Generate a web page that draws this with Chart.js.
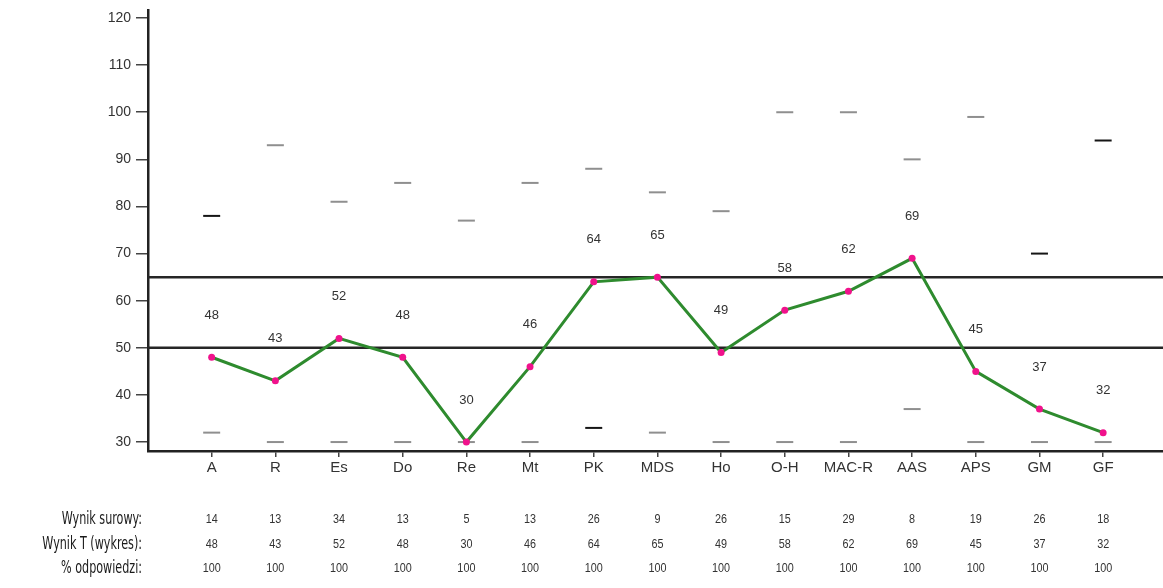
<!DOCTYPE html>
<html>
<head>
<meta charset="utf-8">
<script src="https://cdn.jsdelivr.net/npm/chart.js@4.4.1/dist/chart.umd.min.js"></script>
<style>
  html, body { margin: 0; padding: 0; background: #ffffff; }
  #wrap { width: 1163px; height: 588px; position: relative; }
</style>
</head>
<body>
<div id="wrap"><canvas id="c" width="1163" height="588"></canvas></div>
<script>
// ---- data ----
const categories = ['A','R','Es','Do','Re','Mt','PK','MDS','Ho','O-H','MAC-R','AAS','APS','GM','GF'];
const tScores = [48,43,52,48,30,46,64,65,49,58,62,69,45,37,32];
const rawScores = [14,13,34,13,5,13,26,9,26,15,29,8,19,26,18];
const responsePct = [100,100,100,100,100,100,100,100,100,100,100,100,100,100,100];
const upperMarks = [78,93,81,85,77,85,88,83,79,100,100,90,99,70,94];
const lowerMarks = [32,30,30,30,30,30,33,32,30,30,30,37,30,30,30];
const refLevels = [65, 50];
const yTicks = [30,40,50,60,70,80,90,100,110,120];
const rowLabels = ['Wynik surowy:', 'Wynik T (wykres):', '% odpowiedzi:'];

const darkUpper = ['A','GM','GF'];
const darkLower = ['PK'];

const pts = arr => arr.map((v, i) => ({x: i, y: v}));
const markColors = (names) => categories.map(c => names.includes(c) ? '#151515' : '#8f8f8f');

const labelsPlugin = {
  id: 'labelsPlugin',
  afterDatasetsDraw(chart) {
    const ctx = chart.ctx;
    const meta = chart.getDatasetMeta(0);
    ctx.save();
    ctx.font = '13px "Liberation Sans", Arial, sans-serif';
    ctx.fillStyle = '#333';
    ctx.textAlign = 'center';
    ctx.textBaseline = 'middle';
    meta.data.forEach((el, i) => {
      ctx.fillText(String(tScores[i]), el.x, el.y - 42);
    });
    ctx.restore();
  },
  afterDraw(chart) {
    const ctx = chart.ctx;
    const xs = chart.scales.x;
    const rows = [rawScores, tScores, responsePct];
    const rowY = [520, 545, 569];
    // row labels (condensed)
    ctx.save();
    ctx.fillStyle = '#1a1a1a';
    ctx.textBaseline = 'middle';
    ctx.textAlign = 'right';
    ctx.font = '17px "DejaVu Sans Condensed", "DejaVu Sans", sans-serif';
    rowLabels.forEach((t, r) => {
      ctx.save();
      ctx.translate(142, rowY[r]);
      ctx.scale(0.73, 1);
      ctx.fillText(t, 0, 0);
      ctx.restore();
    });
    ctx.restore();
    // row values
    ctx.save();
    ctx.textAlign = 'center';
    ctx.textBaseline = 'middle';
    ctx.fillStyle = '#333';
    ctx.font = '12px "Liberation Sans", Arial, sans-serif';
    rows.forEach((arr, r) => {
      arr.forEach((v, i) => {
        ctx.save();
        ctx.translate(xs.getPixelForValue(i), rowY[r]);
        ctx.scale(0.9, 1);
        ctx.fillText(String(v), 0, 0);
        ctx.restore();
      });
    });
    ctx.restore();
  }
};

const refDatasets = refLevels.map(v => ({
  type: 'line',
  data: [{x: -1, y: v}, {x: 16, y: v}],
  borderColor: '#262626',
  borderWidth: 2.5,
  pointRadius: 0,
  order: 3
}));

new Chart(document.getElementById('c'), {
  type: 'scatter',
  data: {
    datasets: [
      {
        type: 'line',
        data: pts(tScores),
        borderColor: '#2e8b2e',
        borderWidth: 3,
        pointRadius: 3.5,
        pointBackgroundColor: '#f0128c',
        pointBorderColor: '#f0128c',
        pointBorderWidth: 0,
        tension: 0,
        order: 0
      },
      {
        data: pts(upperMarks),
        pointStyle: 'line',
        pointRadius: 8.5,
        borderWidth: 2,
        pointBorderColor: markColors(darkUpper),
        borderColor: markColors(darkUpper),
        showLine: false,
        order: 1
      },
      {
        data: pts(lowerMarks),
        pointStyle: 'line',
        pointRadius: 8.5,
        borderWidth: 2,
        pointBorderColor: markColors(darkLower),
        borderColor: markColors(darkLower),
        showLine: false,
        order: 1
      },
      ...refDatasets
    ]
  },
  options: {
    responsive: false,
    animation: false,
    layout: { autoPadding: false, padding: { left: 0, right: 0, top: 10, bottom: 0 } },
    plugins: { legend: { display: false }, tooltip: { enabled: false } },
    scales: {
      x: {
        type: 'linear',
        position: 'bottom',
        min: -1,
        max: 14.94,
        afterBuildTicks: s => { s.ticks = categories.map((c, i) => ({value: i})); },
        afterFit: s => { s.height = 137; s.paddingLeft = 0; s.paddingRight = 0; },
        grid: { drawOnChartArea: false, drawTicks: true, tickLength: 6, color: '#444', lineWidth: 1.5 },
        border: { color: '#222', width: 2.5 },
        ticks: {
          autoSkip: false,
          maxRotation: 0,
          padding: 2,
          color: '#333',
          font: { family: '"Liberation Sans", Arial, sans-serif', size: 15 },
          callback: v => categories[v] ?? ''
        }
      },
      y: {
        min: 28.1,
        max: 121.7,
        afterBuildTicks: s => { s.ticks = yTicks.map(v => ({value: v})); },
        afterFit: s => { s.width = 148; s.paddingTop = 0; s.paddingBottom = 0; },
        grid: { drawOnChartArea: false, drawTicks: true, tickLength: 12, color: '#444', lineWidth: 1.5 },
        border: { color: '#222', width: 2.5 },
        ticks: {
          padding: 5,
          color: '#333',
          font: { family: '"Liberation Sans", Arial, sans-serif', size: 14 }
        }
      }
    }
  },
  plugins: [labelsPlugin]
});
</script>
</body>
</html>
